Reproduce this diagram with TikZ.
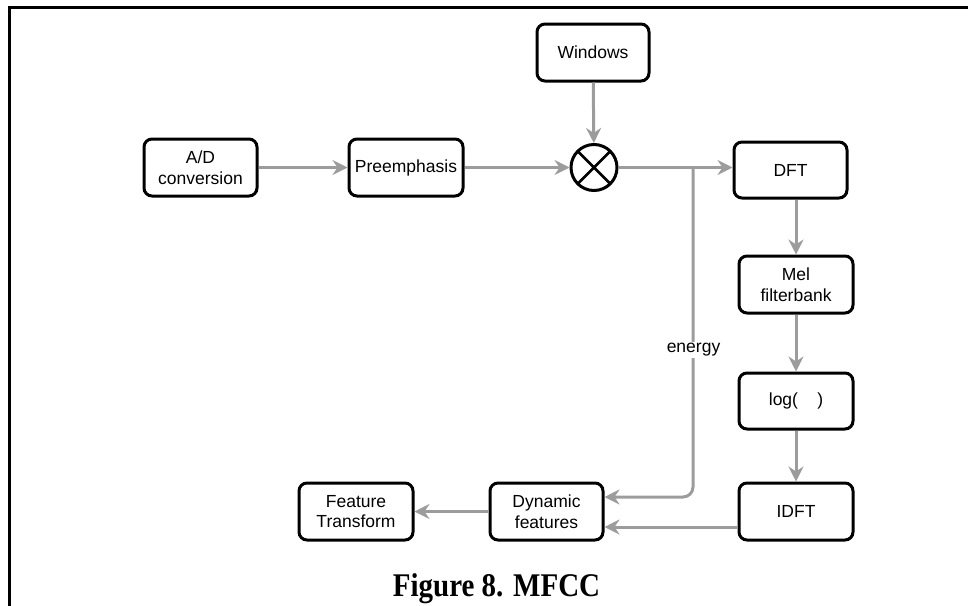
\documentclass[tikz,border=0pt]{standalone}
\usepackage{fontspec}
\setmainfont{Liberation Sans}
\newfontfamily\capfont{Liberation Serif}
\usetikzlibrary{arrows.meta}
\definecolor{flowgray}{HTML}{9C9C9C}
\begin{document}
\begin{tikzpicture}[x=1pt,y=-1pt,
  stagebox/.style={draw=black, line width=3pt, rounded corners=8pt, fill=white,
    minimum width=113pt, minimum height=57pt, align=center, inner sep=2pt,
    font=\fontsize{17.5}{20.5}\selectfont},
  flow/.style={draw=flowgray, line width=3pt,
    -{Stealth[length=15pt,width=15pt,inset=5pt]}},
  mixer/.style={draw=black, line width=3pt, circle, minimum size=46pt, inner sep=0pt,
    path picture={\draw[black, line width=2.8pt]
      (path picture bounding box.north west) -- (path picture bounding box.south east)
      (path picture bounding box.north east) -- (path picture bounding box.south west);}}
]
\useasboundingbox (0,0) rectangle (968,605);

% frame edges
\draw[line width=2.8pt, line cap=rect] (9.5,605) -- (9.5,7.5) -- (968,7.5);

% processing stages
\node[stagebox] (ad)   at (200.5,167.5) {A/D\\conversion};
\node[stagebox, minimum width=114pt] (pre) at (406,167.5) {Preemphasis};
\node[mixer] (mult) at (594,167.5) {};
\node[stagebox, minimum width=112pt] (win) at (593,52.5) {Windows};
\node[stagebox, minimum height=56pt] (dft) at (790.5,170) {DFT};
\node[stagebox, minimum width=114pt] (mel) at (796,284.5) {Mel\\filterbank};
\node[stagebox, minimum width=114pt, minimum height=56pt] (log) at (796,401) {log(\hspace{1.1em})};
\node[stagebox, minimum width=114pt] (idft) at (796,511.5) {IDFT};
\node[stagebox, minimum width=113pt] (dyn) at (546.5,511.5) {Dynamic\\features};
\node[stagebox, minimum width=114pt] (ft) at (356,511.5) {Feature\\Transform};

% main signal chain
\draw[flow] (ad) -- (pre);
\draw[flow] (pre) -- (mult);
\draw[flow] (win) -- (mult);
\draw[flow] (mult.east) -- (dft.west |- mult.east);
\draw[flow] (mel.north |- dft.south) -- (mel.north);
\draw[flow] (mel) -- (log);
\draw[flow] (log) -- (idft);

% energy branch
\coordinate (etap) at (693,167.5);
\coordinate (ecorner) at (693,497);
\draw[flow, rounded corners=10pt] (etap) -- (ecorner) -- (dyn.east |- ecorner);
\node[fill=white, inner sep=1pt, font=\fontsize{17.5}{20.5}\selectfont] (elab) at (693.5,350) {energy};

% cepstral output into dynamic features
\coordinate (lowrow) at (0,527);
\draw[flow] (idft.west |- lowrow) -- (dyn.east |- lowrow);
\draw[flow] (dyn) -- (ft);

% caption
\node[anchor=base, inner sep=0pt, font=\capfont\bfseries\fontsize{29}{34}\selectfont]
  (cap) at (496.5,596) {\scalebox{1}[1.14]{Figure 8. MFCC}};
\end{tikzpicture}
\end{document}
